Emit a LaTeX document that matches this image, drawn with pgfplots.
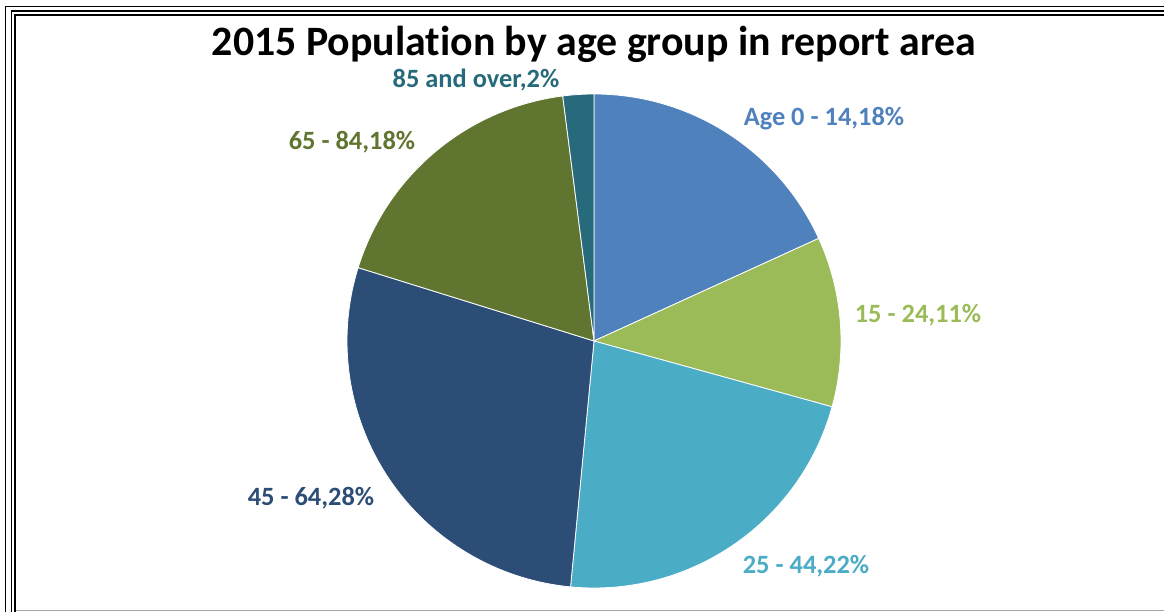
\documentclass[border=0pt]{standalone}
\usepackage{pgfplots}
\pgfplotsset{compat=1.18}
\usepackage{fontspec}
\setmainfont{Carlito}[Ligatures=NoCommon]

\definecolor{cA}{HTML}{4F81BD}
\definecolor{cB}{HTML}{9BBB59}
\definecolor{cC}{HTML}{4BACC6}
\definecolor{cD}{HTML}{2C4D75}
\definecolor{cE}{HTML}{5F7530}
\definecolor{cF}{HTML}{276A7C}

% shares of each age group (percent, as labelled)
\def\vA{18} \def\vB{11} \def\vC{22} \def\vD{28} \def\vE{18} \def\vF{2}
\pgfmathsetmacro\tot{\vA+\vB+\vC+\vD+\vE+\vF}
% slice boundaries, clockwise from 12 o'clock
\pgfmathsetmacro\tO{90}
\pgfmathsetmacro\tA{\tO-360*\vA/\tot}
\pgfmathsetmacro\tB{\tA-360*\vB/\tot}
\pgfmathsetmacro\tC{\tB-360*\vC/\tot}
\pgfmathsetmacro\tD{\tC-360*\vD/\tot}
\pgfmathsetmacro\tE{\tD-360*\vE/\tot}
\pgfmathsetmacro\tF{\tE-360*\vF/\tot}

\newcommand{\slice}[3]{%
  \fill[#1, draw=white, line width=0.8pt] (axis cs:594,271) -- ++(#2:247bp)
    arc[start angle=#2, end angle=#3, radius=247bp] -- cycle;}

\begin{document}
\begin{tikzpicture}
\begin{axis}[
    name=ax,
    width=1164bp, height=612bp, scale only axis,
    xmin=0, xmax=1164, ymin=0, ymax=612,
    hide axis, clip=false
]
    % frame
    \draw[black, line width=1.2bp] (axis cs:5.5,0) -- (axis cs:5.5,605.5) -- (axis cs:1164,605.5);
    \draw[black, line width=1.5bp] (axis cs:11.5,0) -- (axis cs:11.5,601) -- (axis cs:1164,601);
    \draw[black, line width=2.5bp] (axis cs:15,0) -- (axis cs:15,597) -- (axis cs:1164,597);
    \draw[black!35, line width=1.5bp] (axis cs:16,1.5) -- (axis cs:1164,1.5);

    \slice{cA}{\tO}{\tA}
    \slice{cB}{\tA}{\tB}
    \slice{cC}{\tB}{\tC}
    \slice{cD}{\tC}{\tD}
    \slice{cE}{\tD}{\tE}
    \slice{cF}{\tE}{\tF}

    \node[font=\bfseries\fontsize{42}{48}\selectfont] at (axis cs:594,568) {2015 Population by age group in report area};

    \begin{scope}[every node/.style={font=\bfseries\fontsize{26.5}{30}\selectfont}]
    \node[text=cF] at (axis cs:476,532) {85 and over,2\%};
    \node[text=cA] at (axis cs:824,493) {Age 0 - 14,18\%};
    \node[text=cE] at (axis cs:352,470) {65 - 84,18\%};
    \node[text=cB] at (axis cs:918,297) {15 - 24,11\%};
    \node[text=cD] at (axis cs:311,114) {45 - 64,28\%};
    \node[text=cC] at (axis cs:806,46) {25 - 44,22\%};
    \end{scope}
\end{axis}
\pgfresetboundingbox
\path (ax.south west) rectangle (ax.north east);
\end{tikzpicture}
\end{document}
